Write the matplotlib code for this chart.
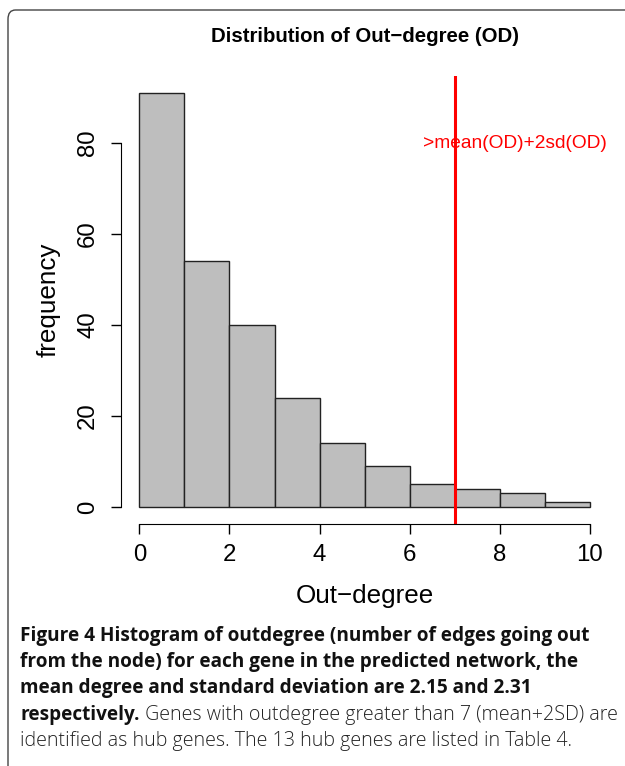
import matplotlib
matplotlib.use("Agg")
import matplotlib.pyplot as plt
from matplotlib.patches import FancyBboxPatch

# histogram of out-degree
bin_edges = [0, 1, 2, 3, 4, 5, 6, 7, 8, 9, 10]
counts = [91, 54, 40, 24, 14, 9, 5, 4, 3, 1]
cutoff = 7  # mean + 2sd
x_ticks = [0, 2, 4, 6, 8, 10]
y_ticks = [0, 20, 40, 60, 80]

caption_lines = [
    ("Figure 4 Histogram of outdegree (number of edges going out", ""),
    ("from the node) for each gene in the predicted network, the", ""),
    ("mean degree and standard deviation are 2.15 and 2.31", ""),
    ("respectively.", " Genes with outdegree greater than 7 (mean+2SD) are"),
    ("", "identified as hub genes. The 13 hub genes are listed in Table 4."),
]

W, H = 625, 766
fig = plt.figure(figsize=(W / 100, H / 100), dpi=100)
plt.rcParams['font.family'] = ['Liberation Sans', 'DejaVu Sans']

# rounded frame, only top and left edges visible
frame = FancyBboxPatch((8 / W, -0.05), 1.1, 1 - 10 / H + 0.05,
                       boxstyle="round,pad=0,rounding_size=0.012",
                       transform=fig.transFigure, fill=False,
                       edgecolor="#444444", linewidth=1.0, clip_on=False)
fig.patches.append(frame)

left, right, top, bottom = 121.3, 608, 76.4, 523.6
ax = fig.add_axes([left / W, 1 - bottom / H, (right - left) / W, (bottom - top) / H])

ax.bar(bin_edges[:-1], counts, width=1, align='edge', color='#BEBEBE',
       edgecolor='#222222', linewidth=1.0)
ax.axvline(cutoff, color='red', linewidth=2.2)
ax.text(8.33, 80, '>mean(OD)+2sd(OD)', color='red', fontsize=13.8,
        ha='center', va='center')

ax.set_xlim(-0.4, 10.4)
ax.set_ylim(-0.04 * 91, 91 * 1.04)
for s in ['top', 'right']:
    ax.spines[s].set_visible(False)
ax.spines['left'].set_bounds(0, 80)
ax.spines['bottom'].set_bounds(0, 10)
ax.set_xticks(x_ticks)
ax.set_yticks(y_ticks)
ax.set_yticklabels([str(v) for v in y_ticks], rotation=90, va='center')
ax.tick_params(direction='out', length=7, width=1, labelsize=17.3)
ax.tick_params(axis='x', pad=8)
ax.tick_params(axis='y', pad=9)
ax.set_xlabel('Out\u2212degree', fontsize=18.7, labelpad=13)
ax.set_ylabel('frequency', fontsize=18.7, labelpad=12)
fig.text((left + right) / 2 / W, 1 - 37 / H, 'Distribution of Out\u2212degree (OD)',
         ha='center', va='center', fontsize=14.7, fontweight='bold')

# caption
renderer = fig.canvas.get_renderer()
cap_font = ['Open Sans', 'DejaVu Sans']
y0, dy = 636, 26.2
for i, (bold, normal) in enumerate(caption_lines):
    y = 1 - (y0 + i * dy) / H
    x = 20 / W
    if bold:
        t = fig.text(x, y, bold, fontsize=13.7, fontweight='bold', family=cap_font,
                     va='center', ha='left', color='#111111')
        bb = t.get_window_extent(renderer)
        x = bb.x1 / W
    if normal:
        fig.text(x, y, normal, fontsize=14.1, family=cap_font, fontweight='light',
                 va='center', ha='left', color='#222222')

fig.savefig('out.png', dpi=100)
